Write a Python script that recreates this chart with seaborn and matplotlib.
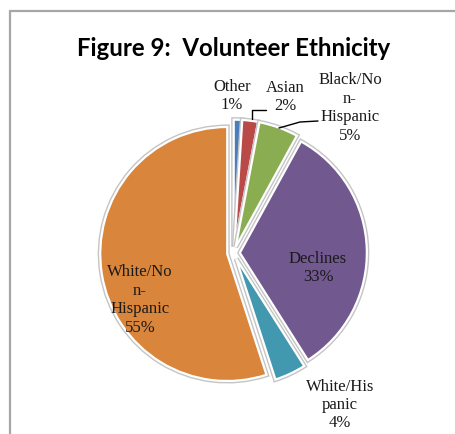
import numpy as np
import seaborn as sns
import matplotlib
matplotlib.use("Agg")
import matplotlib.pyplot as plt
from matplotlib import patheffects
from matplotlib.lines import Line2D

sns.set_theme(style="white")

# data
categories = ["Other", "Asian", "Black/No\nn-\nHispanic", "Declines", "White/His\npanic", "White/No\nn-\nHispanic"]
shares = [1, 2, 5, 33, 4, 55]
colors = ["#4A7EBB", "#B94A48", "#8BAD52", "#71588F", "#4198AF", "#D9853B"]

# layout (pixel positions of the labels in the 456x434 image)
label_px = [(232, 96), (285, 97), (350, 108), (318, 268), (340, 405), (140, 300)]
cx, cy, r = 233.5, 253, 127.0


def to_data(px, py):
    return (px - cx) / r, (cy - py) / r


fig = plt.figure(figsize=(4.56, 4.34), dpi=100)
ax = fig.add_axes([0, 0, 1, 1])

wedges, _ = ax.pie(shares, colors=colors, startangle=90, counterclock=False,
                   explode=[0.05] * len(shares), radius=1,
                   wedgeprops=dict(edgecolor="white", linewidth=1.6))
for w in wedges:
    w.set_path_effects([patheffects.Stroke(linewidth=3.6, foreground="#c4c4c4"),
                        patheffects.Normal()])

for cat, val, (px, py) in zip(categories, shares, label_px):
    x, y = to_data(px, py)
    ax.text(x, y, f"{cat}\n{val}%", ha="center", va="center", fontsize=12,
            family="Liberation Serif", color="#1a1a1a", linespacing=1.2)

# leader lines
for pts in [[(252, 119), (252, 110), (266, 110)],
            [(279, 128), (300, 122), (318, 121)]]:
    xs, ys = zip(*[to_data(*p) for p in pts])
    ax.plot(xs, ys, color="black", lw=1)

ax.set_xlim(-cx / r, (456 - cx) / r)
ax.set_ylim((cy - 434) / r, cy / r)
ax.axis("off")

fig.text(234 / 456, 1 - 48 / 434, "Figure 9:  Volunteer Ethnicity", ha="center", va="center",
         fontsize=17.3, weight="bold", family="Lato", color="black")

# chart frame (top and left edges only visible)
x0, y0 = 10.5 / 456, 1 - 10.5 / 434
fig.add_artist(Line2D([x0, x0], [0, y0], transform=fig.transFigure, color="#a6a6a6", lw=1.6))
fig.add_artist(Line2D([x0, 1], [y0, y0], transform=fig.transFigure, color="#a6a6a6", lw=1.6))

fig.savefig("out.png", dpi=100)
